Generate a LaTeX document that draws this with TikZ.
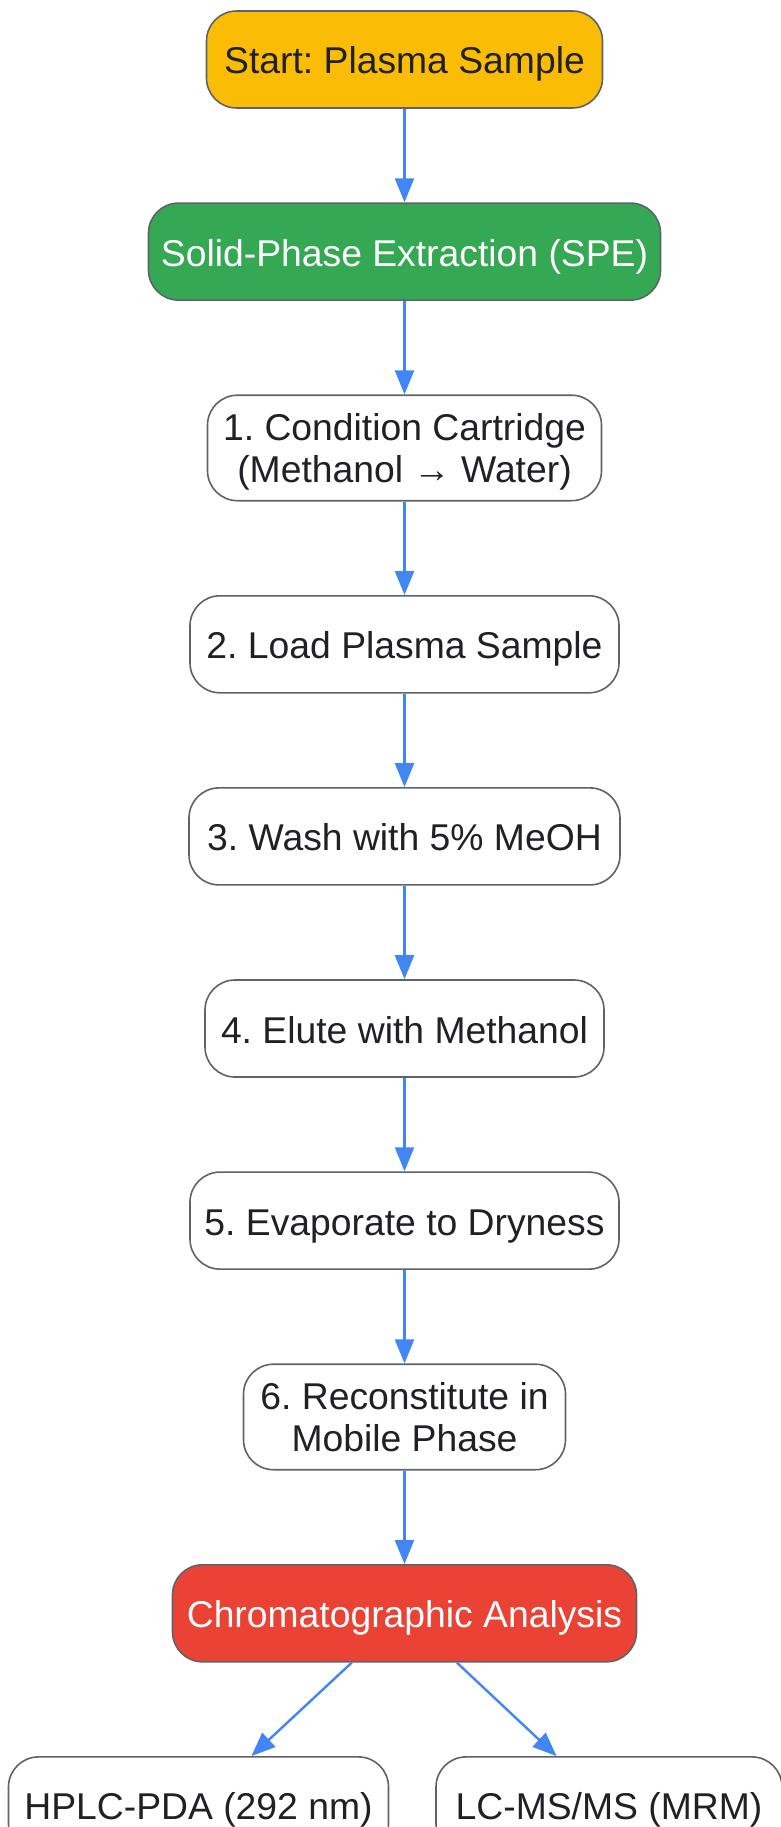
\documentclass[tikz,border=0pt]{standalone}
\usepackage{fontspec}
\setmainfont{Liberation Sans}
\usetikzlibrary{arrows.meta, positioning}
\definecolor{startyellow}{HTML}{FBBC05}
\definecolor{spegreen}{HTML}{34A853}
\definecolor{chromred}{HTML}{EA4335}
\definecolor{flowblue}{HTML}{4285F4}
\definecolor{boxgray}{HTML}{5F6368}
\definecolor{textdark}{HTML}{202124}
\frenchspacing

\begin{document}
\begin{tikzpicture}[->, >={Triangle[length=24pt,width=19pt]}, node distance=93.5pt]
    \tikzstyle{state} = [draw=boxgray, line width=1.6pt, rounded corners=30pt, fill=white, text=textdark, text centered, align=center, font=\fontsize{37.3}{42}\selectfont, minimum height=97pt, inner sep=0pt, text height=37pt, text depth=8pt]
    \tikzstyle{twoline} = [minimum height=105.5pt, text height=78pt]
    \tikzstyle{flow} = [draw=flowblue, line width=2.4pt]
    \useasboundingbox (0,0) rectangle (781pt,-1827pt);
    \node [state, fill=startyellow, minimum width=396pt] at (404.5pt,-59.5pt) (start) {Start: Plasma Sample};
    \node [state, fill=spegreen, text=white, minimum width=512pt, below=of start] (spe) {Solid-Phase Extraction (SPE)};
    \node [state, twoline, minimum width=394pt, below=of spe] (cond) {1. Condition Cartridge\\(Methanol → Water)};
    \node [state, minimum width=429pt, below=of cond] (load) {2. Load Plasma Sample};
    \node [state, minimum width=431pt, below=of load] (wash) {3. Wash with 5\% MeOH};
    \node [state, minimum width=399pt, below=of wash] (elute) {4. Elute with Methanol};
    \node [state, minimum width=429pt, below=of elute] (evap) {5. Evaporate to Dryness};
    \node [state, twoline, minimum width=322pt, below=of evap] (recon) {6. Reconstitute in\\Mobile Phase};
    \node [state, fill=chromred, text=white, minimum width=464pt, below=of recon] (chrom) {Chromatographic Analysis};
    \node [state, minimum width=380pt, below=of chrom, xshift=-206pt] (hplc) {HPLC-PDA (292 nm)};
    \node [state, minimum width=346pt, below=of chrom, xshift=204.5pt] (lcms) {LC-MS/MS (MRM)};
    \draw[flow] (start) -- (spe);
    \draw[flow] (spe) -- (cond);
    \draw[flow] (cond) -- (load);
    \draw[flow] (load) -- (wash);
    \draw[flow] (wash) -- (elute);
    \draw[flow] (elute) -- (evap);
    \draw[flow] (evap) -- (recon);
    \draw[flow] (recon) -- (chrom);
    \draw[flow] (chrom) -- (hplc);
    \draw[flow] (chrom) -- (lcms);
\end{tikzpicture}
\end{document}
